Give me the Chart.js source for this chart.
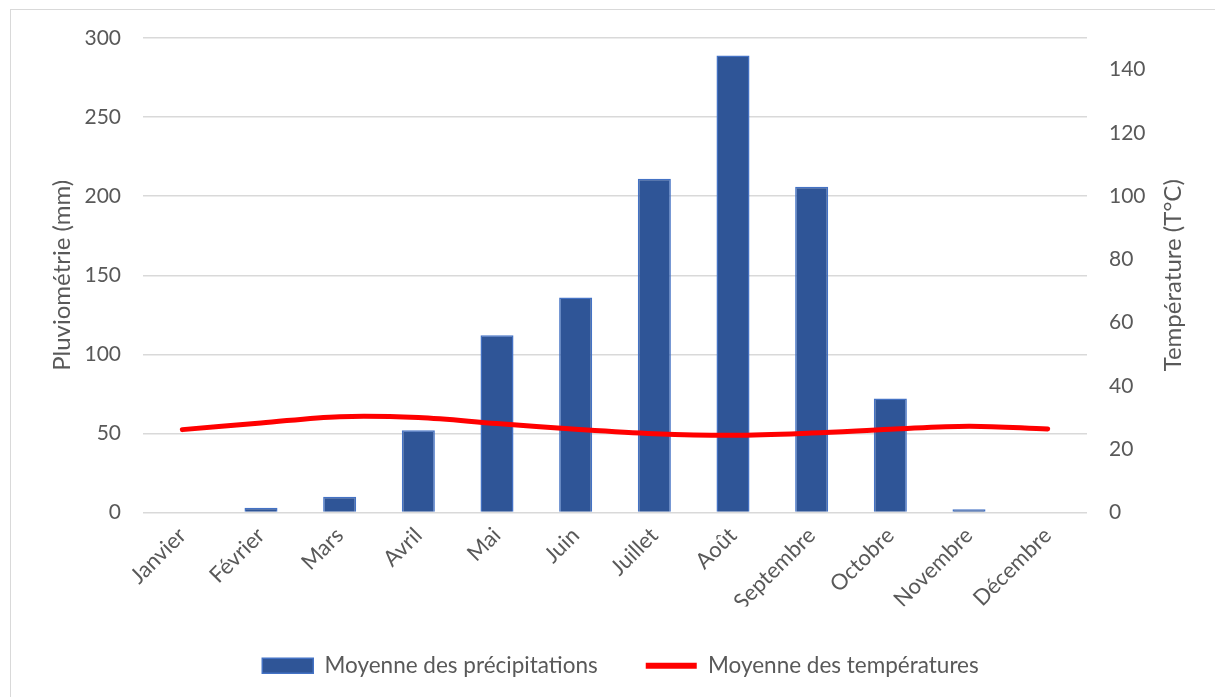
<!DOCTYPE html>
<html><head><meta charset="utf-8">
<script src="https://cdn.jsdelivr.net/npm/chart.js@4.4.1/dist/chart.umd.min.js"></script>
<style>
html,body{margin:0;padding:0;background:#fff;}
#frame{position:absolute;left:10px;top:9px;width:1220px;height:700px;border:1px solid #d9d9d9;box-sizing:border-box;}
#wrap{position:absolute;left:0;top:0;width:1215px;height:697px;}
</style></head>
<body>
<div id="frame"></div>
<div id="wrap"><canvas id="c" width="1215" height="697"></canvas></div>
<script>
const months = ['Janvier','Février','Mars','Avril','Mai','Juin','Juillet','Août','Septembre','Octobre','Novembre','Décembre'];
const precipitations = [0, 3, 10, 52, 112, 136, 211, 289, 206, 72, 2, 0];
const temperatures = [26.2, 28.3, 30.3, 30.0, 28.1, 26.3, 24.9, 24.4, 25.1, 26.3, 27.3, 26.4];
const precipLabel = 'Moyenne des précipitations';
const tempLabel = 'Moyenne des températures';
const leftTitle = 'Pluviométrie (mm)';
const rightTitle = 'Température (T°C)';

const FONT = 'Lato, "Open Sans", sans-serif';
const GREY = '#595959';

const rightTitlePlugin = {
  id: 'rightTitle',
  afterLayout(chart) {
    if (chart.legend) { chart.legend.left += 13; chart.legend.right += 13; }
  },
  afterDraw(chart) {
    const ctx = chart.ctx, ca = chart.chartArea;
    ctx.save();
    ctx.translate(1173, (ca.top + ca.bottom) / 2);
    ctx.rotate(-Math.PI / 2);
    ctx.font = '24px ' + FONT;
    ctx.fillStyle = GREY;
    ctx.textAlign = 'center';
    ctx.textBaseline = 'middle';
    ctx.fillText(rightTitle, 0, 0);
    ctx.restore();
  }
};

new Chart(document.getElementById('c'), {
  data: {
    labels: months,
    datasets: [
      {
        type: 'line', label: tempLabel, data: temperatures, yAxisID: 'y1',
        borderColor: '#ff0000', backgroundColor: '#ff0000', borderWidth: 5,
        tension: 0.35, pointRadius: 0, borderCapStyle: 'round', order: 0
      },
      {
        type: 'bar', label: precipLabel, data: precipitations, yAxisID: 'y',
        backgroundColor: '#2f5597', borderColor: '#4472c4', borderWidth: 1.5,
        barPercentage: 0.42, categoryPercentage: 1, order: 1
      }
    ]
  },
  plugins: [rightTitlePlugin],
  options: {
    responsive: false, animation: false,
    layout: { padding: { top: 38, left: 0, right: 0, bottom: 10 } },
    plugins: {
      tooltip: { enabled: false },
      legend: {
        position: 'bottom',
        reverse: true,
        labels: {
          font: { family: FONT, size: 22.5 }, color: GREY,
          usePointStyle: true, pointStyleWidth: 51, boxHeight: 15,
          padding: 48,
          generateLabels(chart) {
            const items = Chart.defaults.plugins.legend.labels.generateLabels(chart);
            items.forEach(it => {
              const ds = chart.data.datasets[it.datasetIndex];
              if (ds.type === 'line') { it.pointStyle = 'line'; it.lineWidth = 6; it.strokeStyle = '#ff0000'; }
              else { it.pointStyle = 'rect'; it.lineWidth = 1.5; }
            });
            return items;
          }
        }
      }
    },
    scales: {
      x: {
        grid: { display: false }, border: { display: false },
        ticks: { font: { family: FONT, size: 22 }, color: GREY, minRotation: 45, maxRotation: 45, padding: 2 },
        afterFit(s) { s.height = 94; }
      },
      y: {
        position: 'left', min: 0, max: 300,
        ticks: { stepSize: 50, font: { family: FONT, size: 21 }, color: GREY, padding: 22 },
        grid: { color: '#d9d9d9', lineWidth: 1.5, drawTicks: false },
        border: { display: false },
        title: { display: true, text: leftTitle, font: { family: FONT, size: 24 }, color: GREY, padding: { top: 48, bottom: 0 } },
        afterFit(s) { s.width = 143; }
      },
      y1: {
        position: 'right', min: 0, max: 150,
        ticks: { stepSize: 20, font: { family: FONT, size: 21 }, color: GREY, padding: 22 },
        afterBuildTicks(s) { s.ticks = s.ticks.filter(t => t.value % 20 === 0); },
        grid: { display: false, drawTicks: false }, border: { display: false },
        title: { display: false },
        afterFit(s) { s.width = 128; }
      }
    }
  }
});
</script>
</body></html>
